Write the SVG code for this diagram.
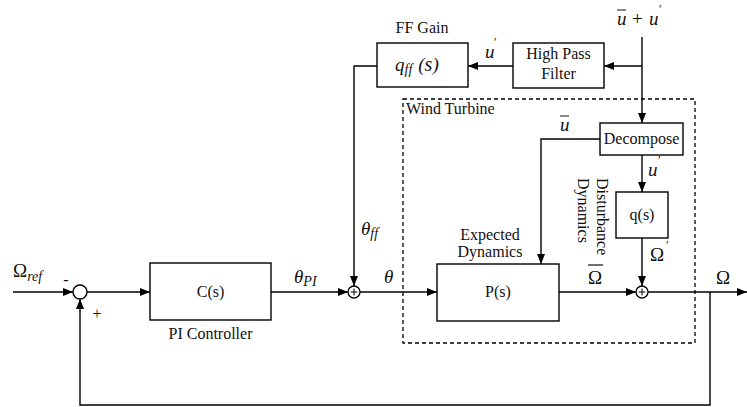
<svg xmlns="http://www.w3.org/2000/svg" width="747" height="407" viewBox="0 0 747 407">
<defs>
<marker id="ah" viewBox="0 0 10 8" refX="10" refY="4" markerWidth="10" markerHeight="8" markerUnits="userSpaceOnUse" orient="auto">
<path d="M0,0 L10,4 L0,8 Z" fill="#000"/>
</marker>
</defs>
<style>
.box{fill:#fff;stroke:#000;stroke-width:1.4}
.ln{fill:none;stroke:#000;stroke-width:1.4}
.t{font-family:"Liberation Serif","DejaVu Serif",serif;font-size:16px;fill:#111}
.m{font-family:"Liberation Serif","DejaVu Serif",serif;font-size:19px;font-style:italic;fill:#111}
.mu{font-family:"Liberation Serif","DejaVu Serif",serif;font-size:19px;fill:#111}
.sub{font-family:"Liberation Serif","DejaVu Serif",serif;font-size:14px;font-style:italic;fill:#111}
.pr{font-family:"Liberation Serif","DejaVu Serif",serif;font-size:12px;fill:#111}
.c{text-anchor:middle}
</style>
<rect width="747" height="407" fill="#fff"/>

<g id="wind-turbine">
<rect x="403" y="99" width="292" height="244" fill="none" stroke="#000" stroke-width="1.3" stroke-dasharray="4,3"/>
<text class="t" x="406" y="114">Wind Turbine</text>
</g>

<g id="connectors">
<path class="ln" d="M13,292 H73" marker-end="url(#ah)"/>
<path class="ln" d="M87,292 H150" marker-end="url(#ah)"/>
<path class="ln" d="M271,292 H348" marker-end="url(#ah)"/>
<path class="ln" d="M360,292 H437" marker-end="url(#ah)"/>
<path class="ln" d="M559,292 H636" marker-end="url(#ah)"/>
<path class="ln" d="M648,292 H747" marker-end="url(#ah)"/>
<path class="ln" d="M710,292 V405 H80 V299" marker-end="url(#ah)"/>
<path class="ln" d="M642,37 V123" marker-end="url(#ah)"/>
<path class="ln" d="M642,66 H604" marker-end="url(#ah)"/>
<path class="ln" d="M513,66 H468" marker-end="url(#ah)"/>
<path class="ln" d="M377,66 H354 V286" marker-end="url(#ah)"/>
<path class="ln" d="M600,139 H541 V264" marker-end="url(#ah)"/>
<path class="ln" d="M642,155 V192" marker-end="url(#ah)"/>
<path class="ln" d="M642,238 V286" marker-end="url(#ah)"/>
</g>

<g id="sum1">
<circle cx="80" cy="292" r="7" fill="#fff" stroke="#000" stroke-width="1.4"/>
<text class="t" x="66" y="285" text-anchor="middle">-</text>
<text class="t" x="97" y="319" text-anchor="middle" font-size="13">+</text>
</g>

<g id="sum2">
<circle cx="354" cy="292" r="6" fill="#fff" stroke="#000" stroke-width="1.3"/>
<path d="M350.5,292 H357.5 M354,288.5 V295.5" stroke="#000" stroke-width="1"/>
</g>

<g id="sum3">
<circle cx="642" cy="292" r="6" fill="#fff" stroke="#000" stroke-width="1.3"/>
<path d="M638.5,292 H645.5 M642,288.5 V295.5" stroke="#000" stroke-width="1"/>
</g>

<g id="pi-controller">
<rect class="box" x="150" y="263" width="121" height="57"/>
<text class="t c" x="210.5" y="297">C(s)</text>
<text class="t c" x="210.5" y="339">PI Controller</text>
</g>

<g id="plant">
<rect class="box" x="437" y="264" width="122" height="57"/>
<text class="t c" x="498" y="297">P(s)</text>
<text class="t c" x="490" y="240">Expected</text>
<text class="t c" x="490" y="257">Dynamics</text>
</g>

<g id="ff-gain">
<rect class="box" x="377" y="43" width="91" height="44"/>
<text class="t c" x="422" y="33">FF Gain</text>
<text class="m" x="395" y="71">q<tspan class="sub" dy="3">ff</tspan><tspan class="mu" dx="6" dy="-3" font-size="20">(</tspan><tspan font-size="20">s</tspan><tspan class="mu" font-size="20">)</tspan></text>
</g>

<g id="high-pass-filter">
<rect class="box" x="513" y="43" width="91" height="45"/>
<text class="t c" x="558.5" y="59">High Pass</text>
<text class="t c" x="558.5" y="79">Filter</text>
</g>

<g id="decompose">
<rect class="box" x="600" y="123" width="83" height="32"/>
<text class="t c" x="641.5" y="144">Decompose</text>
</g>

<g id="disturbance">
<rect class="box" x="616" y="192" width="52" height="46"/>
<text class="t c" x="642" y="220">q(s)</text>
<text class="t" transform="translate(597,178) rotate(90)">Disturbance</text>
<text class="t" transform="translate(578,178) rotate(90)">Dynamics</text>
</g>

<g id="labels">
<text class="mu" x="13" y="277">Ω<tspan class="sub" dy="4">ref</tspan></text>
<text class="m" x="294" y="283">θ<tspan class="sub" dy="3">PI</tspan></text>
<text class="m" x="384" y="283">θ</text>
<text class="m" x="361" y="235">θ<tspan class="sub" dy="3">ff</tspan></text>
<text class="m" x="485" y="58">u</text>
<text class="pr" x="494" y="46">′</text>
<text class="m" x="617" y="25">u</text>
<path d="M617,10 H626" stroke="#111" stroke-width="1"/>
<text class="mu" x="632" y="25">+</text>
<text class="m" x="649" y="25">u</text>
<text class="pr" x="659" y="13">′</text>
<text class="m" x="560" y="131">u</text>
<path d="M560,116 H569" stroke="#111" stroke-width="1"/>
<text class="m" x="648" y="176">u</text>
<text class="pr" x="658" y="164">′</text>
<text class="mu" x="650" y="261">Ω</text>
<text class="pr" x="666" y="249">′</text>
<text class="mu" x="588" y="284">Ω</text>
<path d="M588,265 H603" stroke="#111" stroke-width="1.2"/>
<text class="mu" x="716" y="284">Ω</text>
</g>
</svg>
